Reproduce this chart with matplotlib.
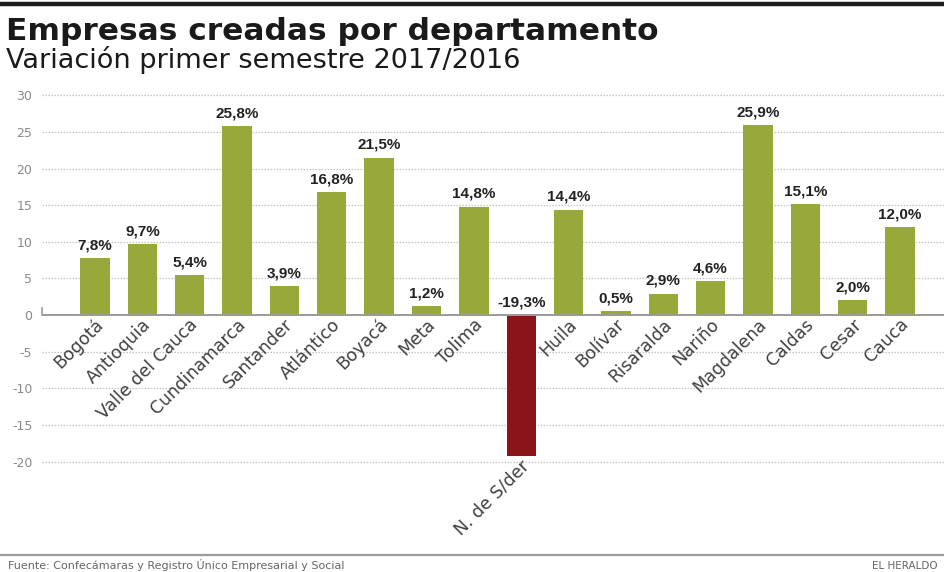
import matplotlib
matplotlib.use("Agg")
import matplotlib.pyplot as plt
from matplotlib.lines import Line2D

departamentos = ["Bogotá", "Antioquia", "Valle del Cauca", "Cundinamarca", "Santander",
                 "Atlántico", "Boyacá", "Meta", "Tolima", "N. de S/der", "Huila", "Bolívar",
                 "Risaralda", "Nariño", "Magdalena", "Caldas", "Cesar", "Cauca"]
variacion = [7.8, 9.7, 5.4, 25.8, 3.9, 16.8, 21.5, 1.2, 14.8, -19.3, 14.4, 0.5,
             2.9, 4.6, 25.9, 15.1, 2.0, 12.0]
y_ticks = [-20, -15, -10, -5, 0, 5, 10, 15, 20, 25, 30]

W, H = 945, 572
fig = plt.figure(figsize=(W / 100, H / 100), dpi=100)
fig.patch.set_facecolor("white")

ax_left, ax_right, ax_top, ax_bottom = 42, 945, 85, 540
ax = fig.add_axes([ax_left / W, 1 - ax_bottom / H, (ax_right - ax_left) / W, (ax_bottom - ax_top) / H])

green = "#98a93a"
red = "#8a1519"
colors = [red if v < 0 else green for v in variacion]
x = list(range(len(departamentos)))
ax.bar(x, variacion, width=0.62, color=colors, zorder=3)

ax.set_xlim(-1.12, 17.95)
ax.set_ylim(-30.7, 31.4)
ax.set_yticks(y_ticks)
ax.set_yticklabels([str(t) for t in y_ticks], color="#8a8a8a", fontsize=9,
                   family=["DejaVu Sans"])
ax.tick_params(axis="y", length=0, pad=7)
ax.tick_params(axis="x", length=0)
ax.set_xticks([])
for s in ax.spines.values():
    s.set_visible(False)
for t in y_ticks:
    if t != 0:
        ax.axhline(t, color="#c4c4c4", lw=0.9, ls=(0, (1.2, 1.2)), zorder=1)
ax.axhline(0, color="#9a9a9a", lw=1.4, zorder=4)
ax.plot([-1.12, -1.12], [0, 1.0], color="#9a9a9a", lw=1.2, zorder=4, clip_on=False)

for i, (name, v) in enumerate(zip(departamentos, variacion)):
    lab = f"{v:.1f}%".replace(".", ",")
    ax.text(i, max(v, 0) + 0.8, lab, ha="center", va="bottom", fontsize=11,
            fontweight="bold", color="#222222",
            family=["Liberation Sans", "DejaVu Sans"], zorder=5)
    ybase = min(v, 0) - 0.9
    ax.text(i + 0.12, ybase, name, rotation=45, rotation_mode="anchor",
            ha="right", va="center", fontsize=12.5, color="#404040",
            family=["DejaVu Sans"])

# header
fig.add_artist(Line2D([0, 1], [1 - 4 / H, 1 - 4 / H], color="#1e1e1e", lw=3.2))
fig.text(6 / W, 1 - 40 / H, "Empresas creadas por departamento", fontsize=22.5,
         fontweight="bold", color="#1a1a1a", va="baseline", ha="left",
         family=["DejaVu Sans"])
fig.text(6 / W, 1 - 68 / H, "Variación primer semestre 2017/2016", fontsize=19.5,
         color="#1a1a1a", va="baseline", ha="left", family=["DejaVu Sans"])

# footer
fig.add_artist(Line2D([0, 1], [1 - 555 / H, 1 - 555 / H], color="#9a9a9a", lw=1.6))
fig.text(8 / W, 1 - 569 / H, "Fuente: Confecámaras y Registro Único Empresarial y Social",
         fontsize=8, color="#666666", va="baseline", ha="left",
         family=["DejaVu Sans"])
fig.text(872 / W, 1 - 569 / H, "EL HERALDO", fontsize=7.5, color="#666666",
         va="baseline", ha="left", family=["DejaVu Sans"])

fig.savefig("out.png", dpi=100)
